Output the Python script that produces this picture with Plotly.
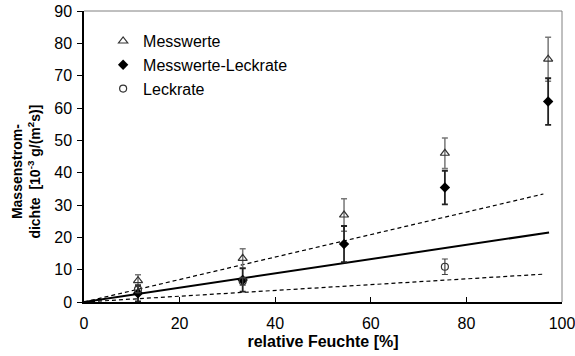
import plotly.graph_objects as go

# Data
rh = [11.3, 33.2, 54.4, 75.5, 97.1]
messwerte = [6.6, 13.5, 26.9, 46.0, 75.1]
messwerte_err = [1.8, 3.0, 5.0, 4.7, 6.8]
diff = [2.7, 6.8, 17.9, 35.4, 62.0]
diff_err = [2.5, 3.6, 5.6, 5.2, 7.2]
leck_x = [11.3, 33.2, 75.5]
leck = [3.9, 6.4, 10.9]
leck_err = [1.0, 1.2, 2.4]

fit_x = [0, 97.3]
fit_mid = [0, 21.5]
fit_dash_x = [0, 96.1]
fit_upper = [0, 33.4]
fit_lower = [0, 8.6]

FONT = "Liberation Sans, Arial, sans-serif"

fig = go.Figure()

fig.add_trace(go.Scatter(x=fit_x, y=fit_mid, mode="lines",
                         line=dict(color="black", width=2), showlegend=False))
fig.add_trace(go.Scatter(x=fit_dash_x, y=fit_upper, mode="lines",
                         line=dict(color="black", width=1.2, dash="4px,3px"), showlegend=False))
fig.add_trace(go.Scatter(x=fit_dash_x, y=fit_lower, mode="lines",
                         line=dict(color="black", width=1.2, dash="4px,3px"), showlegend=False))

fig.add_trace(go.Scatter(
    x=rh, y=messwerte, mode="markers", name="Messwerte",
    marker=dict(symbol="triangle-up-open", size=8, color="#333333", line=dict(width=1.2)),
    error_y=dict(type="data", array=messwerte_err, color="#777777", thickness=1.5, width=3)))
fig.add_trace(go.Scatter(
    x=rh, y=diff, mode="markers", name="Messwerte-Leckrate",
    marker=dict(symbol="diamond", size=8, color="black"),
    error_y=dict(type="data", array=diff_err, color="#222222", thickness=1.8, width=3)))
fig.add_trace(go.Scatter(
    x=leck_x, y=leck, mode="markers", name="Leckrate",
    marker=dict(symbol="circle-open", size=7, color="#333333", line=dict(width=1.2)),
    error_y=dict(type="data", array=leck_err, color="#444444", thickness=1.2, width=3)))

fig.update_layout(
    width=575, height=356,
    margin=dict(l=84, r=13, t=11, b=54, autoexpand=False),
    plot_bgcolor="white", paper_bgcolor="white",
    font=dict(family=FONT, size=15, color="black"),
    showlegend=True,
    legend=dict(x=0.04, y=0.955, xanchor="left", yanchor="top",
                bgcolor="rgba(0,0,0,0)", font=dict(size=16, family=FONT),
                itemwidth=30, tracegroupgap=0),
    xaxis=dict(range=[0, 100], dtick=20, tick0=0, showgrid=False, zeroline=False,
               automargin=False, ticklabeloverflow="allow",
               showline=True, linecolor="black", linewidth=1.5,
               ticks="inside", ticklen=5, tickcolor="black",
               tickfont=dict(size=16), ticklabelstandoff=6,
               title=dict(text="<b>relative Feuchte [%]</b>", font=dict(size=16), standoff=5)),
    yaxis=dict(range=[0, 90], dtick=10, tick0=0, showgrid=False, zeroline=False,
               automargin=False, ticklabeloverflow="allow",
               showline=True, linecolor="black", linewidth=1.5,
               ticks="outside", ticklen=5, tickcolor="black",
               tickfont=dict(size=16), ticklabelstandoff=2),
    shapes=[
        dict(type="line", xref="paper", yref="paper", x0=0, x1=1, y0=1, y1=1,
             line=dict(color="#808080", width=1)),
        dict(type="line", xref="paper", yref="paper", x0=1, x1=1, y0=0, y1=1,
             line=dict(color="#808080", width=1)),
    ],
    annotations=[
        dict(text="<b>Massenstrom-<br>dichte  [10<sup>-3</sup> g/(m<sup>2</sup>s)]</b>",
             xref="paper", yref="paper", x=-0.122, y=0.447, textangle=-90,
             xanchor="center", yanchor="middle", showarrow=False,
             font=dict(size=14, family=FONT)),
    ],
)

fig.write_html("out.html", config={"displayModeBar": False},
               post_script="document.body.style.margin='0';")
